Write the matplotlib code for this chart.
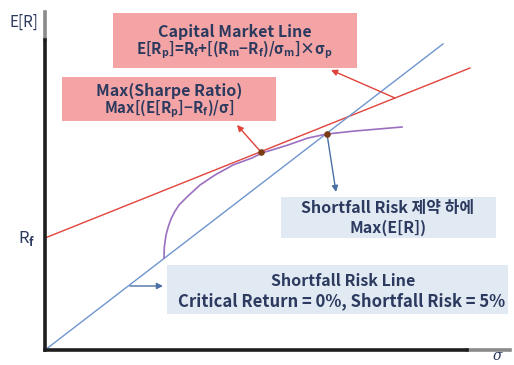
import matplotlib
matplotlib.use("Agg")
import matplotlib.pyplot as plt
from matplotlib.patches import Rectangle
import numpy as np

plt.rcParams['font.family'] = ['Noto Sans CJK KR', 'DejaVu Sans']
plt.rcParams['mathtext.fontset'] = 'custom'
plt.rcParams['mathtext.rm'] = 'Noto Sans CJK KR:bold'
plt.rcParams['mathtext.it'] = 'Noto Sans CJK KR:bold'

# data (sigma, expected return) in chart units
rf = 11.2
cml_slope = 0.4
cml_x = [0, 42.5]
sf_x = [0, 39.8]
sf_slope = 0.769

frontier_x = [11.9, 11.93, 12.1, 12.35, 12.6, 12.95, 13.4, 14.2, 15.5, 17.0,
              18.8, 20.7, 21.7, 24.3, 26.3, 28.2, 31.0, 35.7]
frontier_y = [9.2, 10.3, 11.5, 12.4, 13.1, 13.8, 14.5, 15.3, 16.5, 17.5,
              18.5, 19.2, 19.7, 20.5, 21.2, 21.6, 21.9, 22.3]

tangent_pt = (21.6, 19.8)   # max sharpe
sf_pt = (28.2, 21.6)        # max E[R] under shortfall constraint

navy = '#2b3a5e'
red = '#e0433a'
blue = '#6f95cf'
purple = '#9b6fc0'
pink = '#f4a4a4'
lightblue = '#e1e9f3'

fig = plt.figure(figsize=(5.14, 3.65), dpi=100)
ax = fig.add_axes([45/514, 15/365, 465/514, 338/365])
ax.set_xlim(0, 46.5)
ax.set_ylim(0, 33.8)
ax.set_xticks([])
ax.set_yticks([])
for s in ['top', 'right']:
    ax.spines[s].set_visible(False)
ax.spines['left'].set_bounds(0, 31.0)
ax.spines['bottom'].set_bounds(0, 42.2)
for s in ['left', 'bottom']:
    ax.spines[s].set_linewidth(2.6)
    ax.spines[s].set_color('#1e1e1e')
ax.plot([0, 0], [31.0, 33.8], color='#8a8a8a', lw=2.6, clip_on=False)
ax.plot([42.2, 46.5], [0, 0], color='#8a8a8a', lw=2.6, clip_on=False)

# lines
cx = np.array(cml_x)
ax.plot(cx, rf + cml_slope * cx, color=red, lw=1.0)
sx = np.array(sf_x)
ax.plot(sx, sf_slope * sx, color=blue, lw=1.0)
ax.plot(frontier_x, frontier_y, color=purple, lw=1.2)
ax.scatter([tangent_pt[0], sf_pt[0]], [tangent_pt[1], sf_pt[1]], s=14,
           color='#7a3b12', zorder=5)

# boxes
boxes = [
    (6.8, 28.2, 24.4, 5.5, pink),
    (1.7, 22.9, 21.4, 4.4, pink),
    (23.6, 11.2, 21.5, 4.1, lightblue),
    (12.2, 3.6, 34.1, 4.9, lightblue),
]
for x0, y0, w, h, c in boxes:
    ax.add_patch(Rectangle((x0, y0), w, h, facecolor=c, edgecolor='none',
                           clip_on=False, zorder=1))

tk = dict(color=navy, ha='center', va='center', fontweight='bold', fontsize=11.5)
ax.text(19.0, 31.8, 'Capital Market Line', **tk)
ax.text(19.0, 30.0, r'E[R$_\mathrm{p}$]=R$_\mathrm{f}$+[(R$_\mathrm{m}$−R$_\mathrm{f}$)/σ$_\mathrm{m}$]×σ$_\mathrm{p}$',
        **dict(tk, fontsize=10.8))
ax.text(12.4, 25.9, 'Max(Sharpe Ratio)', **tk)
ax.text(12.4, 24.1, r'Max[(E[R$_\mathrm{p}$]−R$_\mathrm{f}$)/σ]', **dict(tk, fontsize=10.8))
ax.text(34.3, 14.2, 'Shortfall Risk 제약 하에', **tk)
ax.text(34.3, 12.2, 'Max(E[R])', **tk)
ax.text(29.8, 6.9, 'Shortfall Risk Line', **tk)
ax.text(29.7, 4.9, 'Critical Return = 0%, Shortfall Risk = 5%', color=navy,
        ha='center', va='center', fontsize=12, fontweight='bold')

# axis labels
ax.text(-2.1, 32.8, 'E[R]', color=navy, ha='center', va='center', fontsize=11,
        clip_on=False)
ax.text(-1.8, 11.2, r'R$_\mathrm{f}$', color=navy, ha='center', va='center',
        fontsize=12, clip_on=False)
ax.text(45.2, -0.6, 'σ', color=navy, ha='center', va='center', fontsize=10,
        style='italic', family=['DejaVu Serif'], clip_on=False)

# arrows
def arrow(start, end, color):
    ax.annotate('', xy=end, xytext=start,
                arrowprops=dict(arrowstyle='-|>', color=color, lw=1.0,
                                mutation_scale=9, shrinkA=0, shrinkB=0))

cml_arrow_x = 35.0
arrow((cml_arrow_x, rf + cml_slope * cml_arrow_x), (28.6, 28.0), red)
arrow(tangent_pt, (19.2, 22.5), red)
arrow(sf_pt, (29.1, 15.8), '#4a6fa5')
arrow((8.5, 6.4), (11.8, 6.4), '#4a6fa5')

fig.savefig('out.png', dpi=100)
